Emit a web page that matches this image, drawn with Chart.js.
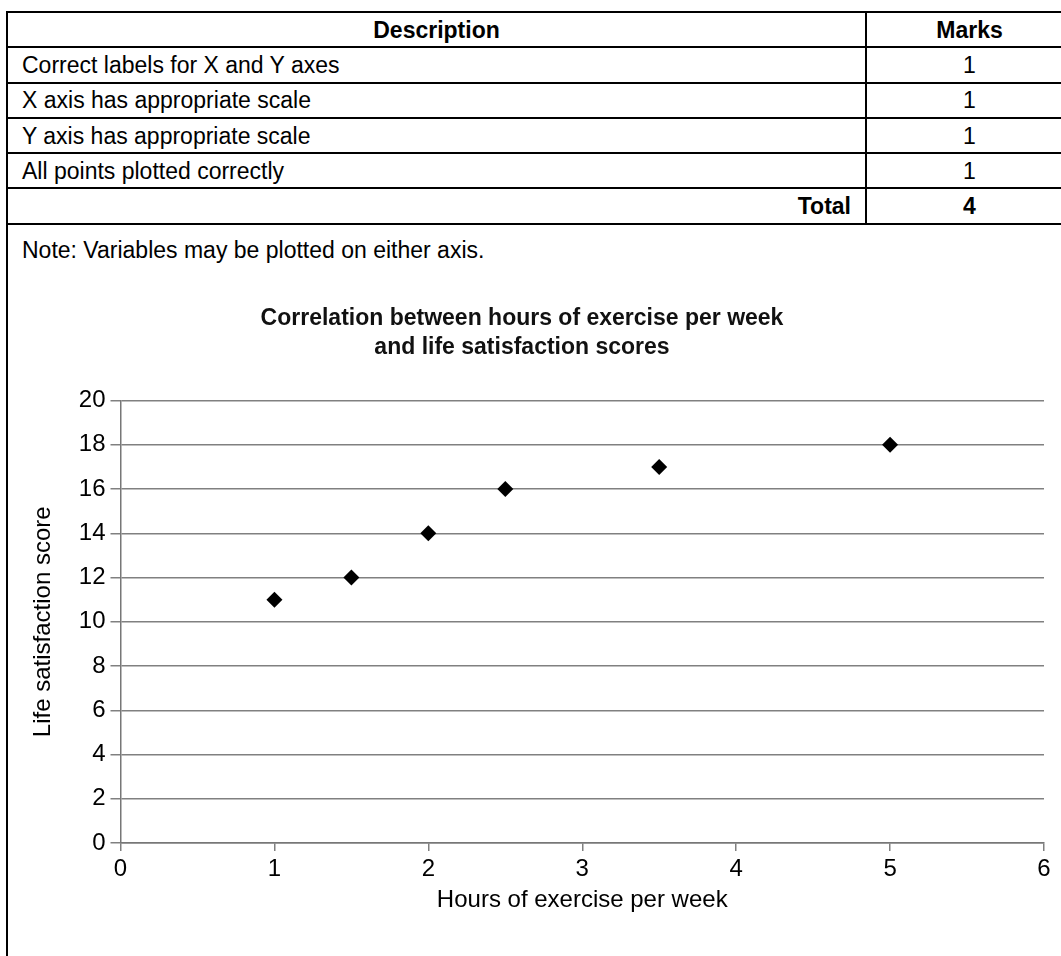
<!DOCTYPE html>
<html>
<head>
<meta charset="utf-8">
<title>Marking scheme</title>
<script src="https://cdn.jsdelivr.net/npm/chart.js@4.4.0/dist/chart.umd.min.js"></script>
<style>
  html, body {
    margin: 0;
    padding: 0;
    background: #fff;
    width: 1061px;
    height: 956px;
    overflow: hidden;
    font-family: "Liberation Sans", Arial, sans-serif;
    color: #000;
  }
  #marks {
    position: absolute;
    left: 6px;
    top: 11px;
    width: 1066px;
    border-collapse: collapse;
    table-layout: fixed;
    font-size: 23px;
  }
  #marks td, #marks th {
    border: 2px solid #000;
    height: 35.3px;
    padding: 0 14px;
    line-height: 26px;
    box-sizing: border-box;
  }
  #marks th { font-weight: bold; text-align: center; }
  #marks td.m { text-align: center; }
  #marks td.total { text-align: right; font-weight: bold; }
  #marks td.totalm { text-align: center; font-weight: bold; }
  #box {
    position: absolute;
    left: 6px;
    top: 223px;
    width: 1100px;
    height: 760px;
    border-left: 2px solid #000;
  }
  #note {
    position: absolute;
    left: 22px;
    top: 237px;
    font-size: 23px;
    line-height: 26px;
  }
  #chart {
    position: absolute;
    left: 0;
    top: 280px;
  }
</style>
</head>
<body>
<table id="marks">
  <colgroup><col style="width:859px"><col style="width:207px"></colgroup>
  <thead><tr><th>Description</th><th>Marks</th></tr></thead>
  <tbody id="rows"></tbody>
</table>
<div id="box"></div>
<div id="note">Note: Variables may be plotted on either axis.</div>
<canvas id="chart" width="1124" height="676"></canvas>
<script>
// marking table
var criteria = ['Correct labels for X and Y axes', 'X axis has appropriate scale', 'Y axis has appropriate scale', 'All points plotted correctly'];
var criteriaMarks = [1, 1, 1, 1];

// chart data
var hours = [1, 1.5, 2, 2.5, 3.5, 5];
var scores = [11, 12, 14, 16, 17, 18];
var xRange = [0, 6];
var yRange = [0, 20];
var xStep = 1;
var yStep = 2;

var rowsEl = document.getElementById('rows');
criteria.forEach(function(c, i) {
  var tr = document.createElement('tr');
  tr.innerHTML = '<td>' + c + '</td><td class="m">' + criteriaMarks[i] + '</td>';
  rowsEl.appendChild(tr);
});
var totalRow = document.createElement('tr');
totalRow.innerHTML = '<td class="total">Total</td><td class="totalm">' +
  criteriaMarks.reduce(function(a, b) { return a + b; }, 0) + '</td>';
rowsEl.appendChild(totalRow);

Chart.defaults.font.family = '"Liberation Sans", Arial, sans-serif';
Chart.defaults.color = '#000';

var ctx = document.getElementById('chart').getContext('2d');
var chart = new Chart(ctx, {
  type: 'scatter',
  data: {
    datasets: [{
      data: hours.map(function(h, i) { return {x: h, y: scores[i]}; }),
      pointStyle: 'rectRot',
      pointRadius: 8,
      pointHoverRadius: 8,
      backgroundColor: '#000',
      borderColor: '#000',
      borderWidth: 0,
      showLine: false
    }]
  },
  options: {
    responsive: false,
    animation: false,
    layout: { padding: { left: 0, right: 80, top: 0, bottom: 0 } },
    plugins: {
      legend: { display: false },
      tooltip: { enabled: false },
      title: {
        display: true,
        text: ['Correlation between hours of exercise per week', 'and life satisfaction scores'],
        font: { size: 23, weight: 'bold', lineHeight: 1.25 },
        color: '#111',
        padding: { top: 24.5, bottom: 38.5 }
      }
    },
    scales: {
      x: {
        type: 'linear',
        min: xRange[0],
        max: xRange[1],
        ticks: { stepSize: xStep, font: { size: 24 }, padding: 4 },
        grid: { drawOnChartArea: false, drawTicks: true, tickLength: 8, color: '#808080', lineWidth: 1.5 },
        border: { display: true, color: '#777', width: 1.5 },
        title: {
          display: true,
          text: 'Hours of exercise per week',
          font: { size: 24, lineHeight: 1.2 },
          padding: { top: 0, bottom: 41.6 }
        },
        afterFit: function(s) { s.height = 113; }
      },
      y: {
        type: 'linear',
        min: yRange[0],
        max: yRange[1],
        ticks: { stepSize: yStep, font: { size: 24 }, padding: 5 },
        grid: { color: '#808080', lineWidth: 1.5, tickLength: 10 },
        border: { display: true, color: '#777', width: 1.5 },
        title: {
          display: true,
          text: 'Life satisfaction score',
          font: { size: 24, lineHeight: 1.2 },
          padding: { top: 28.6, bottom: 0 }
        },
        afterFit: function(s) { s.width = 120.5; }
      }
    }
  }
});
</script>
</body>
</html>
